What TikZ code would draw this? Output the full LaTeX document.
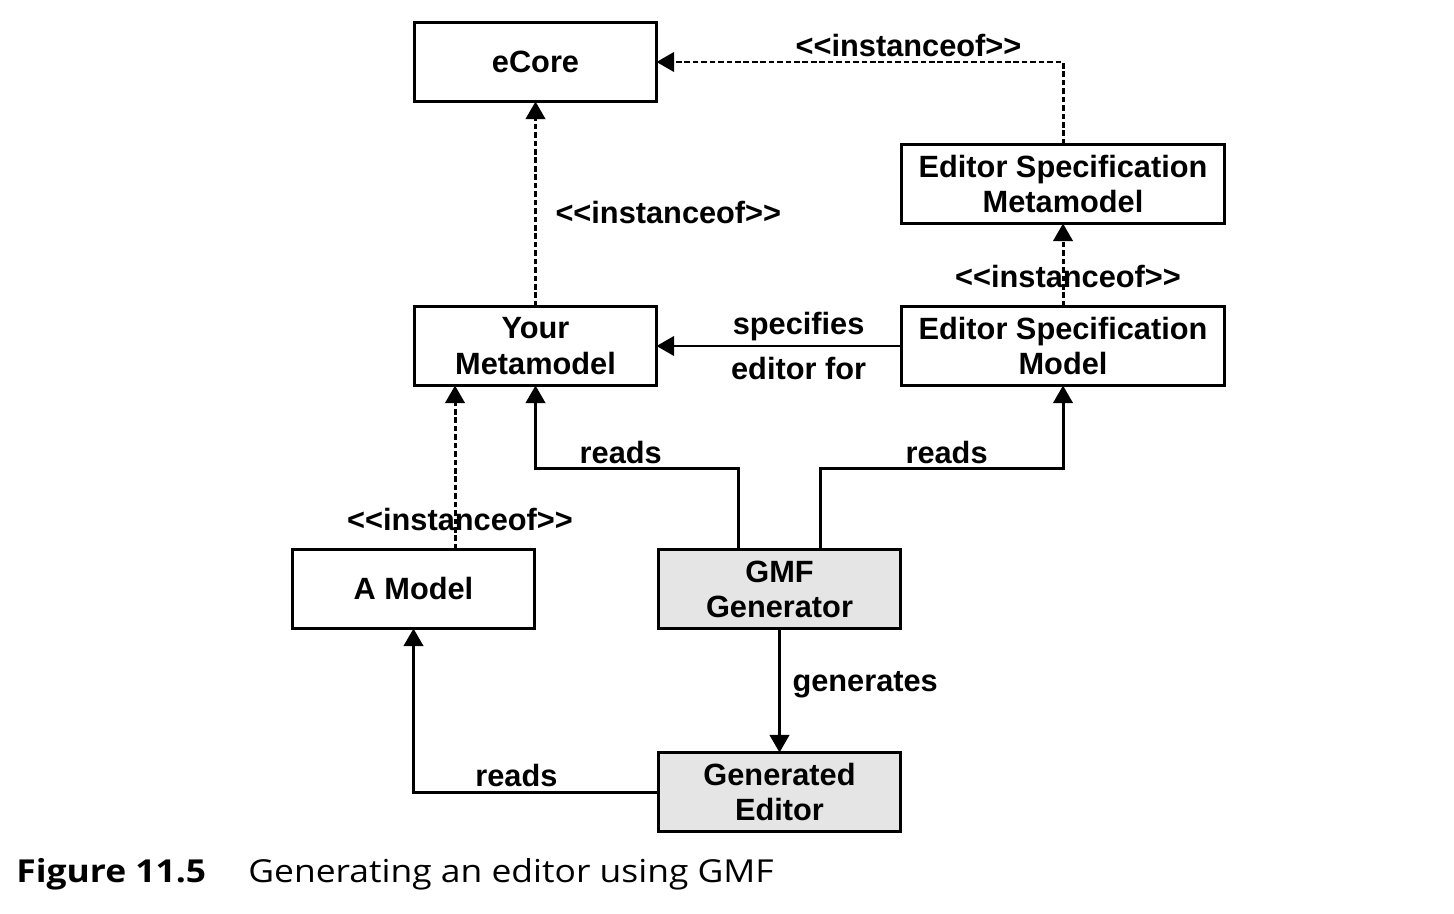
\documentclass[tikz,border=0pt]{standalone}
\usepackage{fontspec}
\usetikzlibrary{arrows.meta,positioning}
\newfontfamily\diagfont{Liberation Sans}
\newfontfamily\capfont[FakeStretch=1.12]{Open Sans}
\tikzset{
    %Define standard arrow tip
    >={Triangle[length=10pt,width=11pt]},
    %Define style for boxes
    boks/.style={
           rectangle,
           draw=black, line width=1.7pt,
           minimum width=4.84cm,
           minimum height=1.58cm,
           inner sep=0pt, outer sep=0pt,
           align=center,
           font=\diagfont\bfseries\fontsize{17.5}{20}\selectfont},
    wideboks/.style={boks, minimum width=6.46cm},
    grayboks/.style={boks, fill=black!10},
    % Define arrow styles
    pil/.style={->, line width=1.7pt},
    instpil/.style={pil, dash pattern=on 3.2pt off 1.6pt},
    lbl/.style={font=\diagfont\bfseries\fontsize{17.5}{20}\selectfont, inner sep=2pt}
}
\begin{document}
\begin{tikzpicture}
\useasboundingbox (0,0) rectangle (29.08,-18.28);
 %nodes
\node[boks] (yourmm) at (10.71,-6.92) {Your\\Metamodel};
\node[boks, above=4.1cm of yourmm] (ecore) {eCore};
\node[wideboks, right=4.9cm of yourmm] (esmodel) {Editor Specification\\Model};
\node[wideboks, above=1.66cm of esmodel] (esmeta) {Editor Specification\\Metamodel};
\node[grayboks, below right=3.28cm and 0.04cm of yourmm] (gmf) {GMF\\Generator};
\node[boks, left=2.48cm of gmf] (amodel) {A Model};
\node[grayboks, below=2.48cm of gmf] (gened) {Generated\\Editor};
 %instanceof
\draw[instpil] (yourmm) -- node[lbl, pos=0.46, right=0.3cm] {<<instanceof>>} (ecore);
\draw[instpil] (esmeta.north) |- node[lbl, pos=0.69, above=0pt] {<<instanceof>>} (ecore.east);
\draw[instpil] (esmodel) -- node[lbl, pos=0.36, xshift=0.1cm] {<<instanceof>>} (esmeta);
\draw[instpil] ([xshift=0.83cm]amodel.north) -- node[lbl, pos=0.18, xshift=0.1cm] {<<instanceof>>} ([xshift=0.83cm]amodel.north |- yourmm.south);
 %other edges
\draw[pil] (esmodel) -- node[lbl, pos=0.42, above=0cm] {specifies} node[lbl, pos=0.42, below=0.13cm] {editor for} (yourmm);
\draw[pil] ([xshift=-0.82cm]gmf.north) -- ++(0,1.62) -| node[lbl, pos=0.29, above] {reads} (yourmm.south);
\draw[pil] ([xshift=0.82cm]gmf.north) -- ++(0,1.62) -| node[lbl, pos=0.26, above] {reads} (esmodel.south);
\draw[pil] (gmf) -- node[lbl, pos=0.45, right=0.16cm] {generates} (gened);
\draw[pil] (gened.west) -| node[lbl, pos=0.29, above] {reads} (amodel.south);
 %caption
\node[anchor=base west, inner sep=0pt, font=\capfont\bfseries\fontsize{18}{22}\selectfont] (capnum) at (0.32,-17.64) {Figure 11.5};
\node[anchor=base west, inner sep=0pt, font=\capfont\fontsize{18}{22}\selectfont] (captext) at (4.96,-17.64) {Generating an editor using GMF};
\end{tikzpicture}
\end{document}
